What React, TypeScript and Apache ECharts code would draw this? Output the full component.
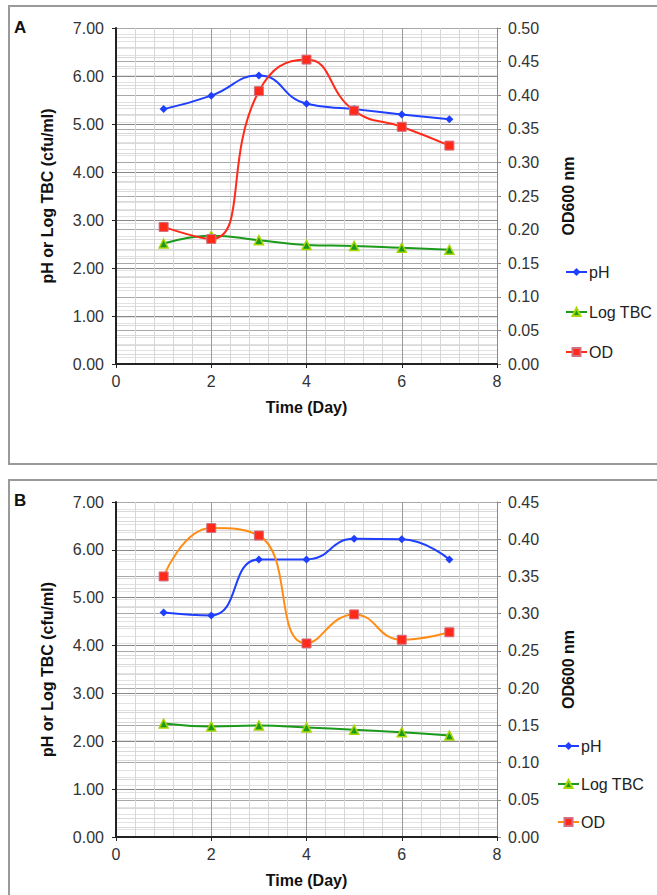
import React, { useEffect, useRef } from "react";
import * as echarts from "echarts";

const days = [1, 2, 3, 4, 5, 6, 7];
const phA = [5.31, 5.59, 6.01, 5.42, 5.31, 5.2, 5.1];
const tbcA = [2.51, 2.67, 2.58, 2.48, 2.46, 2.42, 2.38];
const odA = [0.204, 0.186, 0.406, 0.453, 0.377, 0.353, 0.325];
const phB = [4.69, 4.63, 5.8, 5.8, 6.23, 6.22, 5.8];
const tbcB = [2.37, 2.31, 2.33, 2.29, 2.24, 2.19, 2.12];
const odB = [0.35, 0.415, 0.405, 0.26, 0.299, 0.265, 0.275];
const xTicks = { min: 0, max: 8, interval: 2 };
const leftTicks = { min: 0, max: 7, interval: 1 };
const rightTicksA = { min: 0, max: 0.5, interval: 0.05 };
const rightTicksB = { min: 0, max: 0.45, interval: 0.05 };

const FONT = "'Liberation Sans', Arial, Helvetica, sans-serif";
const BLUE = "#1f3fff";
const GREEN = "#1c9a1c";
const TRI = "#a6d600";
const RED = "#ff2a1a";
const ORANGE = "#ff8c14";

function pairs(v: number[]) {
  return days.map((d, i) => [d, v[i]]);
}

const titleStyle = { fontFamily: FONT, fontSize: 16, fontWeight: "bold", color: "#111" };
const labelStyle = { fontFamily: FONT, fontSize: 16, color: "#333" };

function xAxis(gi: number) {
  return {
    type: "value",
    gridIndex: gi,
    ...xTicks,
    name: "Time (Day)",
    nameLocation: "middle",
    nameGap: 35,
    nameTextStyle: titleStyle,
    axisLine: { show: true, lineStyle: { color: "#222", width: 2 } },
    axisTick: { show: true, length: 4, lineStyle: { color: "#222" } },
    axisLabel: { ...labelStyle, margin: 9 },
    splitLine: { show: true, lineStyle: { color: "#9a9a9a", width: 1 } },
    minorTick: { show: false, splitNumber: 5 },
    minorSplitLine: { show: true, lineStyle: { color: "#d6d6d6", width: 1 } },
  };
}

function leftAxis(gi: number) {
  return {
    type: "value",
    gridIndex: gi,
    position: "left",
    ...leftTicks,
    name: "pH or Log TBC (cfu/ml)",
    nameLocation: "middle",
    nameGap: 61,
    nameRotate: 90,
    nameTextStyle: titleStyle,
    axisLine: { show: true, lineStyle: { color: "#222", width: 2 } },
    axisTick: { show: true, length: 4, lineStyle: { color: "#222" } },
    axisLabel: { ...labelStyle, margin: 12, formatter: (v: number) => v.toFixed(2) },
    splitLine: { show: true, lineStyle: { color: "#8a8a8a", width: 1 } },
    minorTick: { show: false, splitNumber: 5 },
    minorSplitLine: { show: true, lineStyle: { color: "#d9d9d9", width: 1 } },
  };
}

function rightAxis(gi: number, t: any) {
  return {
    type: "value",
    gridIndex: gi,
    position: "right",
    ...t,
    name: "OD600 nm",
    nameLocation: "middle",
    nameGap: 63,
    nameRotate: 90,
    nameTextStyle: titleStyle,
    axisLine: { show: true, lineStyle: { color: "#8a8a8a", width: 1 } },
    axisTick: { show: true, length: 4, lineStyle: { color: "#8a8a8a" } },
    axisLabel: { ...labelStyle, margin: 11, formatter: (v: number) => v.toFixed(2) },
    splitLine: { show: true, lineStyle: { color: "#a8a8a8", width: 1 } },
    minorTick: { show: false, splitNumber: 5 },
    minorSplitLine: { show: true, lineStyle: { color: "#e2e2e2", width: 1 } },
  };
}

function seriesSet(prefix: string, gi: number, ph: number[], tbc: number[], od: number[], odLine: string) {
  const yl = gi * 2;
  const yr = gi * 2 + 1;
  return [
    {
      name: prefix + "pH",
      type: "line",
      xAxisIndex: gi,
      yAxisIndex: yl,
      data: pairs(ph),
      smooth: 0.5,
      symbol: "diamond",
      symbolSize: 8,
      lineStyle: { color: BLUE, width: 2 },
      itemStyle: { color: BLUE },
      z: 3,
    },
    {
      name: prefix + "Log TBC",
      type: "line",
      xAxisIndex: gi,
      yAxisIndex: yl,
      data: pairs(tbc),
      smooth: 0.5,
      symbol: "triangle",
      symbolSize: 9,
      lineStyle: { color: GREEN, width: 2 },
      itemStyle: { color: GREEN, borderColor: TRI, borderWidth: 1.5 },
      z: 3,
    },
    {
      name: prefix + "OD",
      type: "line",
      xAxisIndex: gi,
      yAxisIndex: yr,
      data: pairs(od),
      smooth: 0.5,
      symbol: "rect",
      symbolSize: 9,
      lineStyle: { color: odLine, width: 2 },
      itemStyle: { color: RED, borderColor: "#d07080", borderWidth: 1 },
      z: 4,
    },
  ];
}

function legend(prefix: string, left: number, top: number, gap: number) {
  return {
    orient: "vertical",
    left,
    top,
    itemGap: gap,
    itemWidth: 21,
    itemHeight: 10,
    data: [prefix + "pH", prefix + "Log TBC", prefix + "OD"],
    formatter: (n: string) => n.replace(/^[AB]:/, ""),
    textStyle: { fontFamily: FONT, fontSize: 16, color: "#222", padding: [0, 0, 0, -3] },
    selectedMode: false,
  };
}

export default function App() {
  const ref = useRef<HTMLDivElement>(null);
  useEffect(() => {
    if (!ref.current) return;
    const chart = echarts.init(ref.current, null, { renderer: "svg" });
    chart.setOption({
      animation: false,
      backgroundColor: "#ffffff",
      grid: [
        { left: 116, top: 28, width: 381, height: 336 },
        { left: 116, top: 502, width: 381, height: 335 },
      ],
      xAxis: [xAxis(0), xAxis(1)],
      yAxis: [leftAxis(0), rightAxis(0, rightTicksA), leftAxis(1), rightAxis(1, rightTicksB)],
      legend: [legend("A:", 560, 259, 24), legend("B:", 552, 733, 22)],
      series: [
        ...seriesSet("A:", 0, phA, tbcA, odA, RED),
        ...seriesSet("B:", 1, phB, tbcB, odB, ORANGE),
      ],
      graphic: [
        { type: "rect", shape: { x: 9, y: 6, width: 660, height: 458 }, style: { fill: "none", stroke: "#9a9a9a", lineWidth: 2 }, z: 0 },
        { type: "rect", shape: { x: 9, y: 480, width: 660, height: 430 }, style: { fill: "none", stroke: "#9a9a9a", lineWidth: 2 }, z: 0 },
        { type: "text", left: 14, top: 19, style: { text: "A", fontFamily: FONT, fontSize: 17, fontWeight: "bold", fill: "#111" } },
        { type: "text", left: 14, top: 492, style: { text: "B", fontFamily: FONT, fontSize: 17, fontWeight: "bold", fill: "#111" } },
      ],
    });
    return () => chart.dispose();
  }, []);
  return <div ref={ref} style={{ position: "fixed", left: 0, top: 0, width: 657, height: 895 }} />;
}
